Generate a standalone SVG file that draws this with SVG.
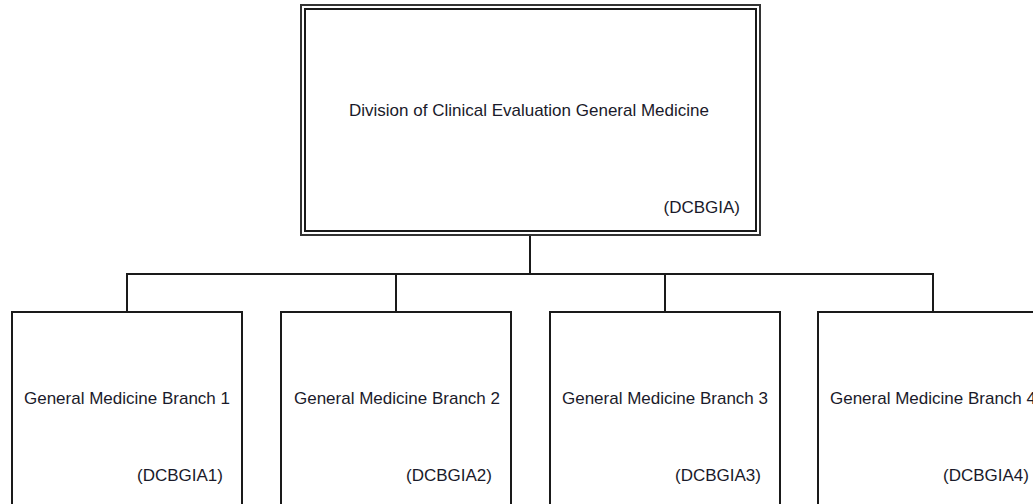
<svg xmlns="http://www.w3.org/2000/svg" width="1033" height="504" viewBox="0 0 1033 504">
<style>
.box{fill:#fff;stroke:#1a1a1a;stroke-width:2}
.outer{fill:#fff;stroke:#333;stroke-width:2}
.inner{fill:none;stroke:#1a1a1a;stroke-width:2}
.conn{fill:none;stroke:#1a1a1a;stroke-width:2}
.t{font-family:"Liberation Sans",Arial,sans-serif;font-size:17px;fill:#1a1a2a}
.c{text-anchor:middle}
.r{text-anchor:end}
</style>
<rect width="1033" height="504" fill="#fff"/>
<g id="connectors">
<path class="conn" d="M530 235V274M127 312V274H933V312M396 274V312M665 274V312"/>
</g>
<g id="division">
<rect class="outer" x="301" y="5" width="459" height="230"/>
<rect class="inner" x="305" y="9" width="451" height="222"/>
<text class="t c" x="529" y="115.5">Division of Clinical Evaluation General Medicine</text>
<text class="t r" x="740" y="213">(DCBGIA)</text>
</g>
<g id="branch1">
<rect class="box" x="12" y="312" width="230" height="220"/>
<text class="t c" x="127" y="404">General Medicine Branch 1</text>
<text class="t r" x="223" y="481">(DCBGIA1)</text>
</g>
<g id="branch2">
<rect class="box" x="281" y="312" width="230" height="220"/>
<text class="t c" x="397" y="404">General Medicine Branch 2</text>
<text class="t r" x="492" y="481">(DCBGIA2)</text>
</g>
<g id="branch3">
<rect class="box" x="550" y="312" width="230" height="220"/>
<text class="t c" x="665" y="404">General Medicine Branch 3</text>
<text class="t r" x="761" y="481">(DCBGIA3)</text>
</g>
<g id="branch4">
<rect class="box" x="818" y="312" width="230" height="220"/>
<text class="t c" x="933" y="404">General Medicine Branch 4</text>
<text class="t r" x="1029" y="481">(DCBGIA4)</text>
</g>
</svg>
